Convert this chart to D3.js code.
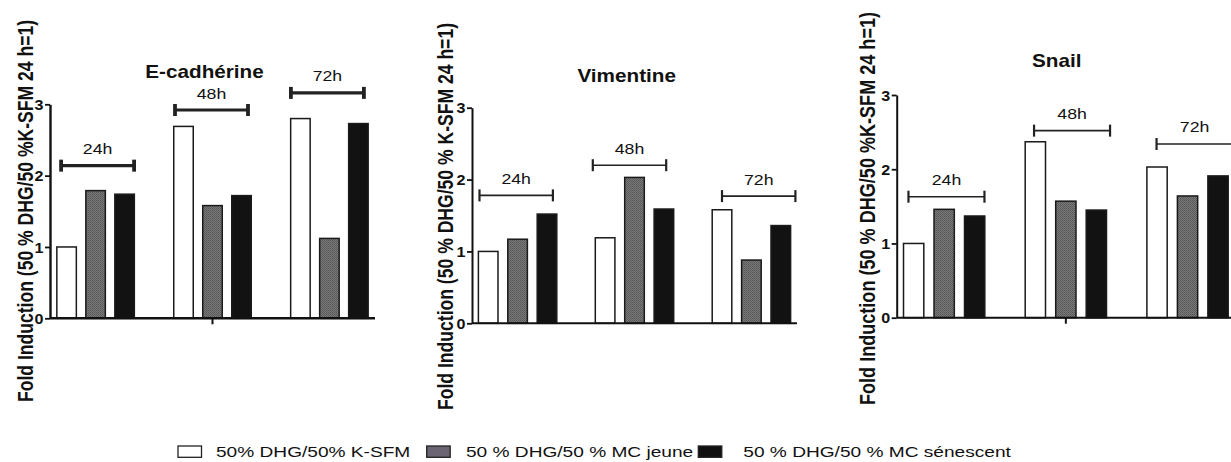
<!DOCTYPE html>
<html>
<head>
<meta charset="utf-8">
<script src="https://cdn.jsdelivr.net/npm/d3@7"></script>
<style>
  html, body { margin: 0; padding: 0; background: #ffffff; }
  svg { display: block; font-family: "Liberation Sans", Arial, sans-serif; }
</style>
</head>
<body>
<svg id="chart" width="1231" height="462"></svg>
<script>
// ---------- DATA ----------
const times = ["24h", "48h", "72h"];
const series = ["50% DHG/50% K-SFM", "50 % DHG/50 % MC jeune", "50 % DHG/50 % MC sénescent"];
const panelTitles = ["E-cadhérine", "Vimentine", "Snail"];
const yAxisLabels = [
  "Fold Induction (50 % DHG/50 %K-SFM 24 h=1)",
  "Fold Induction (50 %  DHG/50 % K-SFM 24 h=1)",
  "Fold Induction (50 % DHG/50 %K-SFM 24 h=1)"
];
const yTicks = [0, 1, 2, 3];

const ecadKSFM  = [1.00, 2.69, 2.80];
const ecadJeune = [1.79, 1.58, 1.12];
const ecadSen   = [1.74, 1.72, 2.73];

const vimKSFM   = [1.00, 1.19, 1.58];
const vimJeune  = [1.17, 2.03, 0.88];
const vimSen    = [1.52, 1.59, 1.36];

const snailKSFM  = [1.00, 2.37, 2.03];
const snailJeune = [1.46, 1.57, 1.64];
const snailSen   = [1.37, 1.45, 1.91];

// bracket heights (in data units) for the time labels
const ecadBracket  = [2.14, 2.92, 3.16];
const vimBracket   = [1.78, 2.20, 1.77];
const snailBracket = [1.63, 2.52, 2.34];

// ---------- STYLE / LAYOUT ----------
const seriesFill = ["#ffffff", "url(#grayTex)", "#121212"];
const legendFill = ["#ffffff", "#6b6472", "#101010"];

const panels = [
  { values: [ecadKSFM, ecadJeune, ecadSen], brackets: ecadBracket,
    ax: 50, aend: 375, zero: 318.3, top: 104.3, step: 29, bw: 19.5,
    bdx: [2, -1, -2], bhalf: 36.5, axisW: 2.4, brW: 3.2, midTick: true,
    title: [204.5, 78.3], ylab: [32.5, 211], ylen: 382 },
  { values: [vimKSFM, vimJeune, vimSen], brackets: vimBracket,
    ax: 472, aend: 797, zero: 323.3, top: 107.7, step: 29.4, bw: 19.6,
    bdx: [-1.4, -5, 7.3], bhalf: 36.7, axisW: 2, brW: 1.6, midTick: false,
    title: [626.7, 81.7], ylab: [452.5, 216.5], ylen: 387 },
  { values: [snailKSFM, snailJeune, snailSen], brackets: snailBracket,
    ax: 896.7, aend: 1235, zero: 317.7, top: 95, step: 30.5, bw: 20.3,
    bdx: [2.3, 6.2, 7], bhalf: 38, axisW: 2, brW: 1.6, midTick: true,
    title: [1056.7, 66.7], ylab: [875, 208.5], ylen: 393 }
];

const svg = d3.select("#chart");
const defs = svg.append("defs");
const pat = defs.append("pattern").attr("id", "grayTex")
  .attr("patternUnits", "userSpaceOnUse").attr("width", 2).attr("height", 2);
pat.append("rect").attr("width", 2).attr("height", 2).attr("fill", "#7a7a7a");
pat.append("rect").attr("x", 0).attr("y", 0).attr("width", 1).attr("height", 1).attr("fill", "#555");
pat.append("rect").attr("x", 1).attr("y", 1).attr("width", 1).attr("height", 1).attr("fill", "#5e5e5e");

function stext(g, x, y, str, size, weight, anchor, sx) {
  return g.append("text")
    .attr("transform", `translate(${x},${y}) scale(${sx},1)`)
    .attr("text-anchor", anchor || "middle")
    .attr("font-size", size)
    .attr("font-weight", weight || "normal")
    .attr("fill", "#111")
    .text(str);
}

panels.forEach((p, pi) => {
  const g = svg.append("g");
  const y = d3.scaleLinear().domain([0, 3]).range([p.zero, p.top]);
  const x = d3.scalePoint().domain(times).range([p.ax, p.aend]).padding(0.39);
  const inner = d3.scalePoint().domain(series).range([-p.step, p.step]);

  // bars
  series.forEach((s, si) => {
    g.selectAll(null).data(p.values[si]).join("rect")
      .attr("x", (d, i) => x(times[i]) + inner(s) - p.bw / 2)
      .attr("y", d => y(d))
      .attr("width", p.bw)
      .attr("height", d => y(0) - y(d))
      .attr("fill", seriesFill[si])
      .attr("stroke", "#1a1a1a")
      .attr("stroke-width", 1.5);
  });

  // y axis
  const yAxis = d3.axisLeft(y).tickValues(yTicks).tickFormat(d3.format("d"))
    .tickSize(5).tickSizeOuter(0);
  const ag = g.append("g").attr("transform", `translate(${p.ax},0)`).call(yAxis);
  ag.attr("font-size", null).attr("font-family", null);
  ag.select(".domain").attr("stroke", "#111").attr("stroke-width", p.axisW);
  ag.selectAll(".tick line").attr("stroke", "#111").attr("stroke-width", 1.8);
  ag.selectAll(".tick text")
    .attr("x", null).attr("dy", "0.36em")
    .attr("transform", `translate(-6.5,0) scale(1.15,1)`)
    .style("font-size", "14px").style("font-weight", "bold")
    .style("font-family", "'Liberation Sans', Arial, sans-serif")
    .attr("fill", "#111");

  // x axis line
  g.append("line")
    .attr("x1", p.ax).attr("x2", p.aend)
    .attr("y1", y(0)).attr("y2", y(0))
    .attr("stroke", "#111").attr("stroke-width", p.axisW);
  if (p.midTick) {
    const mx = x(times[1]);
    g.append("line").attr("x1", mx).attr("x2", mx)
      .attr("y1", y(0)).attr("y2", y(0) + 6)
      .attr("stroke", "#111").attr("stroke-width", 2);
  }

  // brackets + time labels
  times.forEach((t, i) => {
    const cx = x(t) + p.bdx[i];
    const by = y(p.brackets[i]);
    g.append("line").attr("x1", cx - p.bhalf).attr("x2", cx + p.bhalf)
      .attr("y1", by).attr("y2", by)
      .attr("stroke", "#222").attr("stroke-width", p.brW);
    [cx - p.bhalf, cx + p.bhalf].forEach(ex => {
      g.append("line").attr("x1", ex).attr("x2", ex)
        .attr("y1", by - 6).attr("y2", by + 6)
        .attr("stroke", "#222").attr("stroke-width", p.brW + 0.6);
    });
    stext(g, cx, by - 11.5, t, 15, "normal", "middle", 1.18);
  });

  // title
  stext(g, p.title[0], p.title[1], panelTitles[pi], 17.7, "bold", "middle", 1.17);

  // y label (rotated)
  g.append("text")
    .attr("transform", `translate(${p.ylab[0]},${p.ylab[1]}) rotate(-90) scale(1,1.25)`)
    .attr("text-anchor", "middle")
    .attr("font-size", 18)
    .attr("font-weight", "bold")
    .attr("fill", "#111")
    .attr("textLength", p.ylen)
    .attr("lengthAdjust", "spacingAndGlyphs")
    .text(yAxisLabels[pi]);
});

// legend
const legendSquareX = [178, 426.7, 698.3];
const legendTextX = [216, 466, 743.3];
const lg = svg.append("g");
series.forEach((s, i) => {
  lg.append("rect")
    .attr("x", legendSquareX[i]).attr("y", 446)
    .attr("width", 23.5).attr("height", 11.3)
    .attr("fill", legendFill[i])
    .attr("stroke", "#222").attr("stroke-width", 1.3);
  stext(lg, legendTextX[i], 456.5, s, 15.3, "normal", "start", 1.25);
});
</script>
</body>
</html>
